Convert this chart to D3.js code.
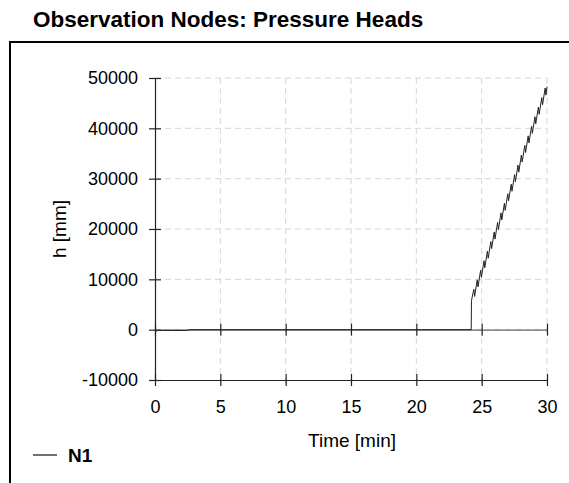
<!DOCTYPE html>
<html>
<head>
<meta charset="utf-8">
<script src="https://cdn.jsdelivr.net/npm/d3@7"></script>
<style>
  body { margin: 0; background: #fff; }
  svg { display: block; font-family: "Liberation Sans", Arial, sans-serif; }
</style>
</head>
<body>
<svg id="chart" width="569" height="483"></svg>
<script>
(function() {

    // observation node N1, time [min] vs pressure head [mm]
    var times = [0, 0.3, 2.5, 2.6, 24.20, 24.22,
        24.40, 24.46, 24.66, 24.72, 24.92, 24.98, 25.18, 25.24, 25.44, 25.50,
        25.70, 25.76, 25.96, 26.02, 26.22, 26.28, 26.48, 26.54, 26.74, 26.80,
        27.00, 27.06, 27.26, 27.32, 27.52, 27.58, 27.78, 27.84, 28.04, 28.10,
        28.30, 28.36, 28.56, 28.62, 28.82, 28.88, 29.08, 29.14, 29.34, 29.40,
        29.60, 29.66, 29.86, 29.92, 30.00];
    var heads = [-300, -150, -150, 0, 0, 5800,
        8000, 6600, 9900, 8500, 11800, 10400, 13700, 12300, 15600, 14200,
        17500, 16100, 19400, 18000, 21300, 19900, 23200, 21800, 25100, 23700,
        27000, 25600, 28900, 27500, 30800, 29400, 32700, 31300, 34700, 33300,
        36600, 35200, 38500, 37100, 40400, 39000, 42300, 40900, 44200, 42800,
        46100, 44700, 48000, 46600, 48300];
    var xTicks = [0, 5, 10, 15, 20, 25, 30];
    var yTicks = [-10000, 0, 10000, 20000, 30000, 40000, 50000];
    var seriesName = 'N1';

    var data = times.map(function(t, i) { return { t: t, h: heads[i] }; });

    var svg = d3.select('#chart');
    var left = 155, right = 547, top = 78, bottom = 380;
    var fontFamily = '"Liberation Sans", Arial, sans-serif';

    var x = d3.scaleLinear().domain([0, 30]).range([left, right]);
    var y = d3.scaleLinear().domain([-10000, 50000]).range([bottom, top]);

    // title + frame
    svg.append('text')
        .attr('x', 33).attr('y', 27)
        .attr('font-size', 22.5).attr('font-weight', 'bold')
        .attr('fill', '#000')
        .text('Observation Nodes: Pressure Heads');

    svg.append('path')
        .attr('d', 'M10,483 V42 H569')
        .attr('fill', 'none')
        .attr('stroke', '#000')
        .attr('stroke-width', 2);

    // grid
    var grid = svg.append('g')
        .attr('stroke', '#d6d6d6')
        .attr('stroke-dasharray', '6,4');
    grid.selectAll('line.gx').data(xTicks.slice(1)).enter().append('line')
        .attr('x1', function(d) { return x(d); })
        .attr('x2', function(d) { return x(d); })
        .attr('y1', top).attr('y2', bottom + 6);
    grid.selectAll('line.gy').data(yTicks.slice(1)).enter().append('line')
        .attr('y1', function(d) { return y(d); })
        .attr('y2', function(d) { return y(d); })
        .attr('x1', left).attr('x2', right);

    // axes
    var plain = function(d) { return String(d); };
    var yAxis = d3.axisLeft(y).tickValues(yTicks).tickFormat(plain)
        .tickSizeInner(6).tickSizeOuter(0).tickPadding(11);
    var gy = svg.append('g').attr('transform', 'translate(' + left + ',0)').call(yAxis);

    var xAxis = d3.axisBottom(x).tickValues(xTicks).tickFormat(plain)
        .tickSizeInner(6).tickSizeOuter(0).tickPadding(14);
    var gx = svg.append('g').attr('transform', 'translate(0,' + bottom + ')').call(xAxis);

    var zeroAxis = d3.axisBottom(x).tickValues(xTicks).tickSize(6).tickSizeOuter(0).tickFormat('');
    var gz = svg.append('g').attr('transform', 'translate(0,' + y(0) + ')').call(zeroAxis);

    [gx, gy, gz].forEach(function(g) {
        g.attr('font-size', 18).attr('font-family', fontFamily);
        g.selectAll('.domain').attr('stroke', '#222').attr('stroke-width', 1.2);
        g.selectAll('.tick line').attr('stroke', '#222').attr('stroke-width', 1.2);
        g.selectAll('text').attr('fill', '#000');
    });
    gz.selectAll('.domain').attr('stroke', '#666');
    // ticks cross the axis lines
    gy.selectAll('.tick line').attr('x1', 6);
    gx.selectAll('.tick line').attr('y1', -6);
    gz.selectAll('.tick line').attr('y1', -6);

    // series
    var line = d3.line()
        .x(function(d) { return x(d.t); })
        .y(function(d) { return y(d.h); });
    svg.append('path')
        .datum(data)
        .attr('d', line)
        .attr('fill', 'none')
        .attr('stroke', '#222')
        .attr('stroke-width', 1)
        .attr('stroke-linejoin', 'miter');

    // axis titles
    svg.append('text')
        .attr('x', 352).attr('y', 447)
        .attr('text-anchor', 'middle')
        .attr('font-size', 19)
        .text('Time [min]');
    svg.append('text')
        .attr('transform', 'translate(66,229) rotate(-90)')
        .attr('text-anchor', 'middle')
        .attr('font-size', 19)
        .text('h [mm]');

    // legend
    svg.append('line')
        .attr('x1', 33).attr('x2', 57).attr('y1', 455).attr('y2', 455)
        .attr('stroke', '#111').attr('stroke-width', 1.2);
    svg.append('text')
        .attr('x', 68).attr('y', 462)
        .attr('font-size', 19).attr('font-weight', 'bold')
        .text(seriesName);
})();
</script>
</body>
</html>
